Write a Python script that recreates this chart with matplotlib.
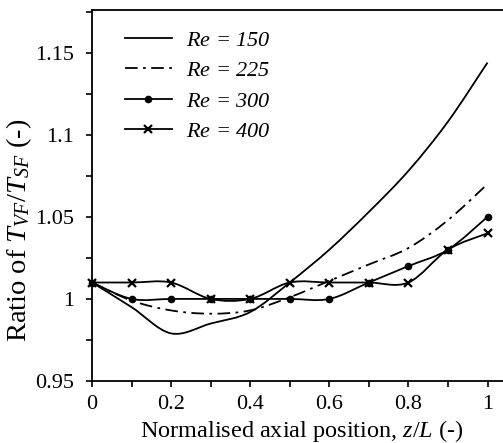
import numpy as np, matplotlib
matplotlib.use("Agg")
import matplotlib.pyplot as plt
from matplotlib.path import Path
from matplotlib.patches import PathPatch
from matplotlib.lines import Line2D
from matplotlib.ticker import MultipleLocator, FuncFormatter

plt.rcParams.update({"font.family": "Liberation Serif", "mathtext.fontset": "custom",
                     "mathtext.rm": "Liberation Serif", "mathtext.it": "Liberation Serif:italic"})

# data
z = [0.0, 0.1, 0.2, 0.3, 0.4, 0.5, 0.6, 0.7, 0.8, 0.9, 1.0]
re150 = [1.010, 0.995, 0.979, 0.985, 0.992, 1.010, 1.030, 1.053, 1.078, 1.108, 1.144]
re225 = [1.010, 0.999, 0.993, 0.991, 0.993, 1.001, 1.011, 1.021, 1.031, 1.048, 1.070]
re300 = [1.010, 1.000, 1.000, 1.000, 1.000, 1.000, 1.000, 1.010, 1.020, 1.030, 1.050]
re400 = [1.010, 1.010, 1.010, 1.000, 1.000, 1.010, 1.010, 1.010, 1.010, 1.030, 1.040]
labels = ["150", "225", "300", "400"]
xticks = [0, 0.2, 0.4, 0.6, 0.8, 1]
yticks = [0.95, 1.0, 1.05, 1.1, 1.15]

INK = "black"; LW = 1.3
DASHDOT = (0, (7, 3, 1.5, 3))

def smooth_path(x, y):
    # excel-like smoothed line: cubic bezier through every point
    P = np.column_stack([x, y]); n = len(P)
    verts, codes = [P[0]], [Path.MOVETO]
    for i in range(n - 1):
        p0 = P[max(i - 1, 0)]; p1 = P[i]; p2 = P[i + 1]; p3 = P[min(i + 2, n - 1)]
        verts += [p1 + (p2 - p0) / 6, p2 - (p3 - p1) / 6, p2]
        codes += [Path.CURVE4] * 3
    return Path(verts, codes)

def mk_kw(mk):
    if mk == "o":
        return dict(marker="o", ms=4.5, mew=1.0)
    if mk == "x":
        return dict(marker="x", ms=5.5, mew=1.6)
    return {}

fig = plt.figure(figsize=(5.03, 4.43), dpi=100)
W = 1.06
AXW = W * 395.5
ax = fig.add_axes([92 / 503, 62 / 443, AXW / 503, 371 / 443])
ax.set_xlim(0, W); ax.set_ylim(0.95, 1.176)

styles = [("-", None), (DASHDOT, None), ("-", "o"), ("-", "x")]
for ys, (ls, mk) in zip([re150, re225, re300, re400], styles):
    ax.add_patch(PathPatch(smooth_path(z, ys), fill=False, ec=INK, lw=LW, ls=ls, capstyle="butt"))
    if mk:
        ax.plot(z, ys, ls="none", mfc=INK, mec=INK, clip_on=False, zorder=4, **mk_kw(mk))

handles = [Line2D([], [], color=INK, lw=LW, ls=ls, mfc=INK, **mk_kw(mk)) for ls, mk in styles]
ax.legend(handles, [f"$Re$ = {l}" for l in labels], loc="upper left",
          bbox_to_anchor=(33 / AXW, 1 - 20 / 371), frameon=False,
          handlelength=2.1, handletextpad=0.65, labelspacing=0.45, borderpad=0, borderaxespad=0,
          prop={"family": "Liberation Serif", "style": "italic", "size": 16})

ax.set_xticks(xticks); ax.set_yticks(yticks)
ax.xaxis.set_minor_locator(MultipleLocator(0.1)); ax.yaxis.set_minor_locator(MultipleLocator(0.025))
fmt = FuncFormatter(lambda v, p: f"{v:g}")
ax.xaxis.set_major_formatter(fmt); ax.yaxis.set_major_formatter(fmt)
ax.tick_params(which="both", direction="out", length=4, width=1.2, labelsize=16, colors=INK)
ax.tick_params(axis="y", which="major", pad=9)
ax.tick_params(axis="x", which="major", pad=6)
ax.tick_params(axis="x", which="both", top=False)
for s in ax.spines.values():
    s.set_linewidth(1.3)

ax.set_xlabel("Normalised axial position, $z/L$ (-)", fontsize=17.5, labelpad=3)
ax.set_ylabel("Ratio of $T_{VF}/T_{SF}$ (-)", fontsize=20.5)
ax.yaxis.set_label_coords(-(92 - 34) / AXW, (381 - 230) / 371)

fig.savefig("out.png", dpi=100)
